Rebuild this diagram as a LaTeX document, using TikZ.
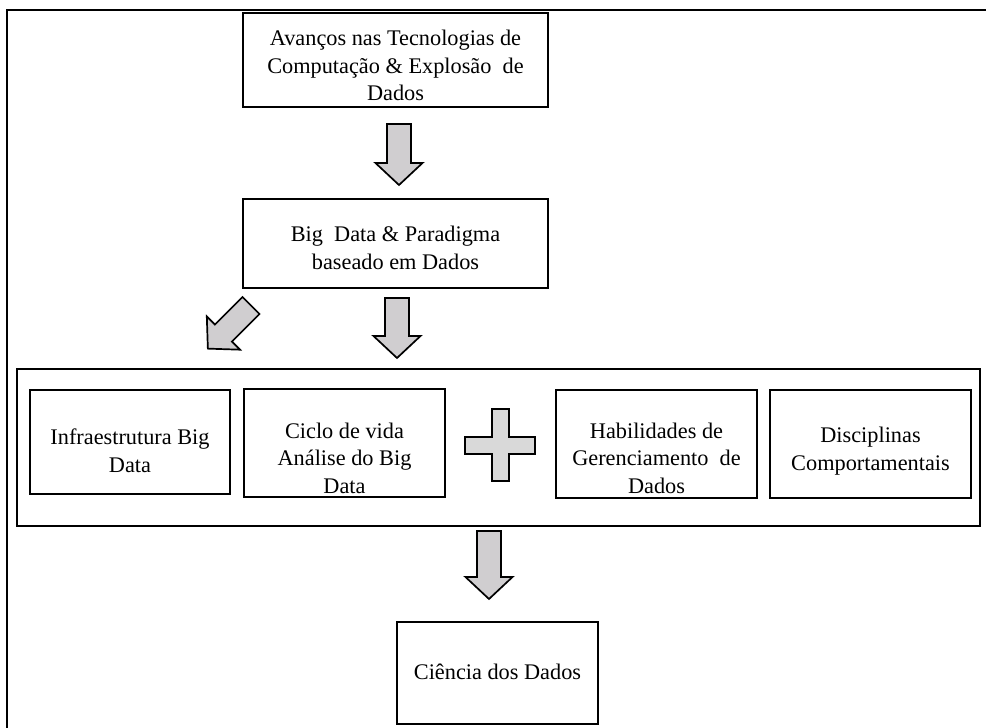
\documentclass[tikz,border=0pt]{standalone}
\usepackage{fontspec}
\setmainfont{Liberation Serif}
\begin{document}
\begin{tikzpicture}[x=1pt,y=-1pt,
  outerframe/.style={draw=black, line width=1.5pt},
  box/.style={draw=black, line width=1.2pt, inner sep=0pt},
  boxtext/.style={align=center, inner sep=0pt, font=\fontsize{22.3}{27.5}\selectfont},
  arrowbody/.style={draw=black, line width=1.7pt, line join=miter, fill={rgb,255:red,208;green,206;blue,208}},
  plusbody/.style={draw=black, line width=1.7pt, line join=miter, fill={rgb,255:red,217;green,217;blue,217}},
  pics/blockarrow/.style={code={
    \draw[arrowbody] (-12,0) -- (12,0) -- (12,#1) -- (23.5,#1) -- (0,#1+22)
      -- (-23.5,#1) -- (-12,#1) -- cycle;
  }}
]
\useasboundingbox (0,0) rectangle (986,728);

% page frame (open to the right and below)
\draw[outerframe] (7,730) -- (7,10) -- (988,10);

% top boxes
\node[box, minimum width=305pt, minimum height=94pt] (b1) at (395.5,60) {};
\node[boxtext] (t1) at (395.5,65.5) {Avanços nas Tecnologias de\\Computação \& Explosão~ de\\Dados};

\node[box, minimum width=305pt, minimum height=89pt] (b2) at (395.5,243.5) {};
\node[boxtext] (t2) at (395.5,248) {Big~ Data \& Paradigma\\baseado em Dados};

% grouping container
\node[box, minimum width=963pt, minimum height=157pt] (grp) at (498.5,447.5) {};

\node[box, minimum width=200pt, minimum height=104pt] (b3) at (130,442) {};
\node[boxtext] (t3) at (130,451) {Infraestrutura Big\\Data};

\node[box, minimum width=201pt, minimum height=108pt] (b4) at (344.5,443) {};
\node[boxtext] (t4) at (344.5,458) {Ciclo de vida\\Análise do Big\\Data};

\node[box, minimum width=201pt, minimum height=108pt] (b5) at (656.5,444) {};
\node[boxtext] (t5) at (656.5,458) {Habilidades de\\Gerenciamento~ de\\Dados};

\node[box, minimum width=201pt, minimum height=108pt] (b6) at (870.5,444) {};
\node[boxtext] (t6) at (870.5,451) {Disciplinas\\Comportamentais};

% result box
\node[box, minimum width=201pt, minimum height=102pt] (b7) at (497.5,673) {};
\node[boxtext] (t7) at (497.5,672) {Ciência dos Dados};

% plus sign between the two pairs
\draw[plusbody] (492,409) -- (509,409) -- (509,437) -- (535,437) -- (535,454)
  -- (509,454) -- (509,481) -- (492,481) -- (492,454) -- (465,454)
  -- (465,437) -- (492,437) -- cycle;

% block arrows
\pic at (399,124) {blockarrow=39};
\pic at (397,298) {blockarrow=38};
\pic[rotate=-45] at (251,305.5) {blockarrow=39};
\pic at (489,531) {blockarrow=46};
\end{tikzpicture}
\end{document}
